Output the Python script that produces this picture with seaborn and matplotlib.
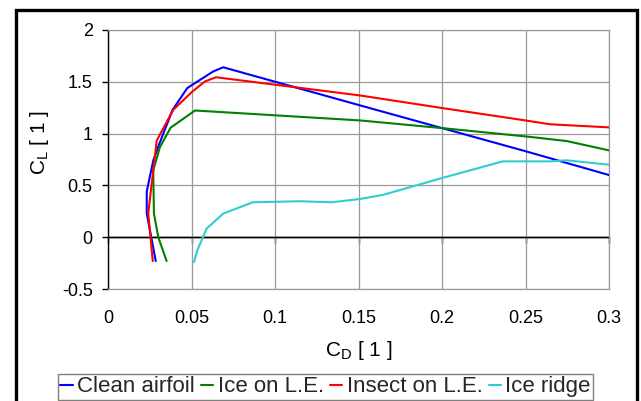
import matplotlib
matplotlib.use("Agg")
import matplotlib.pyplot as plt
import pandas as pd
import seaborn as sns
from matplotlib.patches import Rectangle

# Lift vs. drag polars for four leading-edge conditions
series_names = ["Clean airfoil", "Ice on L.E.", "Insect on L.E.", "Ice ridge"]
series_colors = ["#0000ff", "#008000", "#ff0000", "#33cccc"]

clean_cd = [0.0286, 0.0232, 0.0232, 0.0271, 0.0307, 0.0387, 0.0475, 0.063, 0.069, 0.151, 0.25, 0.30]
clean_cl = [-0.23, 0.23, 0.44, 0.74, 0.90, 1.23, 1.44, 1.60, 1.64, 1.272, 0.83, 0.60]

ice_cd = [0.0351, 0.0301, 0.0275, 0.0271, 0.0311, 0.0375, 0.0521, 0.151, 0.20, 0.25, 0.2747, 0.30]
ice_cl = [-0.23, 0.0, 0.23, 0.645, 0.87, 1.057, 1.223, 1.127, 1.053, 0.973, 0.928, 0.838]

insect_cd = [0.0268, 0.0241, 0.0292, 0.0391, 0.0501, 0.058, 0.0647, 0.151, 0.2004, 0.25, 0.2647, 0.30]
insect_cl = [-0.23, 0.23, 0.934, 1.23, 1.40, 1.503, 1.544, 1.368, 1.246, 1.127, 1.09, 1.06]

ridge_cd = [0.0515, 0.0535, 0.0591, 0.069, 0.0867, 0.115, 0.134, 0.151, 0.165, 0.20, 0.2364, 0.2647, 0.2747, 0.30]
ridge_cl = [-0.24, -0.125, 0.084, 0.228, 0.337, 0.347, 0.337, 0.369, 0.41, 0.571, 0.732, 0.732, 0.742, 0.70]

x_ticks = [0, 0.05, 0.1, 0.15, 0.2, 0.25, 0.3]
x_tick_labels = ["0", "0.05", "0.1", "0.15", "0.2", "0.25", "0.3"]
y_ticks = [-0.5, 0, 0.5, 1, 1.5, 2]
y_tick_labels = ["-0.5", "0", "0.5", "1", "1.5", "2"]

frames = []
for name, cd, cl in zip(series_names,
                        [clean_cd, ice_cd, insect_cd, ridge_cd],
                        [clean_cl, ice_cl, insect_cl, ridge_cl]):
    frames.append(pd.DataFrame({"CD": cd, "CL": cl, "case": name}))
df = pd.concat(frames, ignore_index=True)

sns.set_theme(style="white")
plt.rcParams["font.family"] = ["Liberation Sans", "DejaVu Sans"]
plt.rcParams["axes.unicode_minus"] = False

W, H = 641, 401
fig = plt.figure(figsize=(W / 100, H / 100), dpi=100)
ax = fig.add_axes([108 / W, 1 - 289 / H, 501 / W, 259 / H])

grid_color = "#9a9a9a"
ax.grid(True, color=grid_color, lw=0.9)
ax.set_axisbelow(True)

# Horizontal axis line crossing at C_L = 0
ax.axhline(0, color="black", lw=1.0, zorder=1.5)

sns.lineplot(data=df, x="CD", y="CL", hue="case", hue_order=series_names,
             palette=series_colors, sort=False, estimator=None,
             lw=1.5, ax=ax, zorder=3)

ax.set_xlim(0, 0.3)
ax.set_ylim(-0.5, 2)
ax.set_xticks(x_ticks, x_tick_labels)
ax.set_yticks(y_ticks, y_tick_labels)

for side in ["top", "right", "bottom"]:
    ax.spines[side].set_color(grid_color)
    ax.spines[side].set_linewidth(0.9)
ax.spines["left"].set_color("black")
ax.spines["left"].set_linewidth(1.0)

ax.tick_params(axis="x", length=0, pad=15, labelsize=13, labelcolor="black")
ax.tick_params(axis="y", direction="out", length=4.5, width=1, color="black",
               left=True, pad=6.5, labelsize=13, labelcolor="black")

# Tick marks hanging below the C_L = 0 line
zero_frac = (0 - (-0.5)) / (2 - (-0.5))
secax = ax.secondary_xaxis(zero_frac)
secax.set_xticks(x_ticks)
secax.tick_params(direction="out", length=4.5, width=1, color="black",
                  labelbottom=False, labeltop=False)
for sp in secax.spines.values():
    sp.set_color("black")
    sp.set_linewidth(1.0)

ax.set_xlabel(r"$\mathregular{C_D}$ [ 1 ]", fontsize=15, color="black")
ax.set_ylabel(r"$\mathregular{C_L}$ [ 1 ]", fontsize=15, color="black")
ax.xaxis.set_label_coords(0.5, -0.236)
ax.xaxis.label.set_va("center")
ax.yaxis.set_label_coords(-0.136, 0.564)
ax.yaxis.label.set_va("center")

handles, labels = ax.get_legend_handles_labels()
ax.get_legend().remove()
leg = fig.legend(handles, labels, loc="lower center",
                 bbox_to_anchor=(325.5 / W, 1 / H), ncol=4, fontsize=16,
                 frameon=True, fancybox=False, edgecolor="#808080", framealpha=1,
                 handlelength=0.56, handletextpad=0.19, columnspacing=0.28,
                 borderpad=0.12, borderaxespad=0)
leg.get_frame().set_linewidth(1.0)

# Outer chart frame
fig.patches.append(Rectangle((15.7 / W, -0.2), (637 - 15.7) / W, 1.2 - 10 / H,
                             transform=fig.transFigure, fill=False,
                             ec="black", lw=2.4))

fig.savefig("out.png", dpi=100)
